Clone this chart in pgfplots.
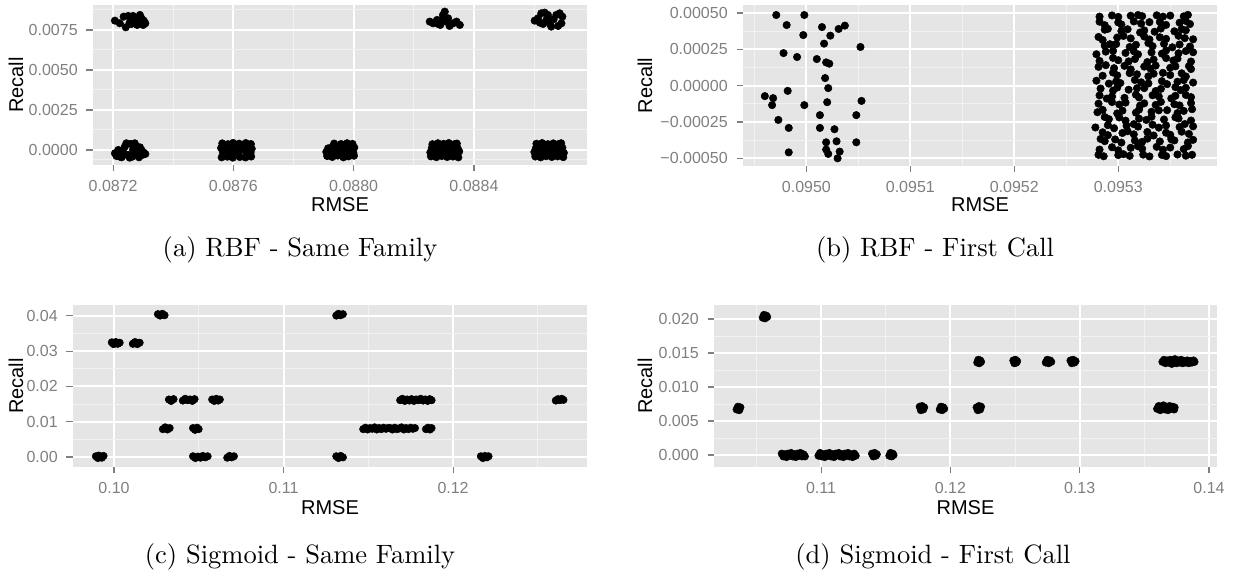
\documentclass[border=0pt]{standalone}
\usepackage{fontspec}
\setmainfont{Latin Modern Roman}
\newfontfamily\ggfont{Liberation Sans}
\usepackage{pgfplots}
\pgfplotsset{compat=1.18}
\definecolor{ggbg}{HTML}{E5E5E5}
\definecolor{ggminor}{HTML}{F2F2F2}
\definecolor{ggtext}{HTML}{7F7F7F}
\pgfplotsset{gg/.style={
  scale only axis,
  axis background/.style={fill=ggbg},
  axis line style={draw=none},
  grid=both,
  major grid style={white, line width=0.8pt},
  minor grid style={ggminor, line width=0.4pt},
  tick align=outside,
  major tick length=2.6pt,
  minor tick length=0pt,
  tick style={ggtext, line width=0.45pt},
  tick pos=left,
  ticklabel style={font=\ggfont\fontsize{6.4}{7.5}\selectfont, text=ggtext},
  label style={font=\ggfont\fontsize{8}{9.6}\selectfont},
  scaled ticks=false,
  anchor=north west,
},
ggpt/.style={only marks, mark=*, mark size=1.5pt, color=black, mark options={draw=black, fill=black, line width=0.2pt}},
}
\begin{document}
\begin{tikzpicture}
\useasboundingbox (0,0) rectangle (493.2pt,-232.4pt);
% (a)
\begin{axis}[gg, at={(37.2pt,-2pt)}, width=197.6pt, height=64pt,
  xmin=0.087133, xmax=0.088776, ymin=-0.00094, ymax=0.00906,
  xtick={0.0872,0.0876,0.0880,0.0884}, xticklabels={0.0872,0.0876,0.0880,0.0884},
  minor xtick={0.0874,0.0878,0.0882,0.0886},
  ytick={0,0.0025,0.005,0.0075}, yticklabels={0.0000,0.0025,0.0050,0.0075},
  minor ytick={-0.000625,0.00125,0.00375,0.00625,0.00875},
  xlabel={RMSE}, ylabel={Recall},
  xlabel style={at={(axis description cs:0.5,-0.25)}, anchor=center},
  ylabel style={at={(axis description cs:-0.1559,0.5)}, anchor=center}]
\addplot[ggpt] coordinates {
(0.087206,0.008083)(0.087222,0.007917)(0.087235,0.008333)(0.087250,0.008375)(0.087242,0.007667)(0.087261,0.007875)(0.087272,0.008125)(0.087289,0.008438)(0.087294,0.008229)(0.087300,0.007813)(0.087307,0.007917)(0.087280,0.007813)(0.087266,0.008375)(0.087255,0.007958)(0.087286,0.008083)(0.087302,0.008083)
(0.087206,-0.000208)(0.087217,0)(0.087222,-0.000417)(0.087233,-0.000104)(0.087239,0.000208)(0.087244,0.000417)(0.087250,-0.000313)(0.087258,0.000375)(0.087266,0)(0.087272,0.000417)(0.087264,-0.000417)(0.087278,-0.000208)(0.087286,-0.000458)(0.087294,0)(0.087302,-0.000167)(0.087307,-0.000250)(0.087228,-0.000458)(0.087211,-0.000375)(0.087255,-0.00048)(0.087275,0.000167)(0.087289,0.000167)(0.087236,-0.000313)(0.087297,-0.000313)
(0.087561,-0.00046)(0.087580,-0.00042)(0.087598,-0.00048)(0.087621,-0.00044)(0.087640,-0.00047)(0.087659,-0.00041)
(0.087565,-0.00014)(0.087584,-0.00019)(0.087603,-0.00011)(0.087618,-0.00016)(0.087642,-0.00009)(0.087657,-0.00018)
(0.087559,0.00012)(0.087578,0.00017)(0.087601,0.00009)(0.087623,0.00019)(0.087638,0.00013)(0.087661,0.00008)
(0.087563,0.00041)(0.087582,0.00036)(0.087599,0.00044)(0.087619,0.00039)(0.087641,0.00043)(0.087658,0.00037)
(0.087571,0.00001)(0.087611,-0.00003)(0.087650,0.00003)(0.087590,-0.00030)(0.087630,0.00028)
(0.087912,-0.00038)(0.087929,-0.00044)(0.087947,-0.00035)(0.087966,-0.00046)(0.087983,-0.00040)(0.088001,-0.00036)
(0.087909,-0.00012)(0.087931,-0.00018)(0.087944,-0.00008)(0.087962,-0.00015)(0.087985,-0.00010)(0.087999,-0.00019)
(0.087915,0.00010)(0.087927,0.00016)(0.087949,0.00012)(0.087967,0.00018)(0.087980,0.00009)(0.088002,0.00015)
(0.087935,0.00040)(0.087958,0.00037)(0.087978,0.00042)(0.087996,0.00038)
(0.087920,-0.00027)(0.087955,0.00002)(0.087990,-0.00025)
(0.088253,0.008021)(0.088264,0.007917)(0.088277,0.008125)(0.088288,0.007813)(0.088297,0.008438)(0.088303,0.008646)(0.088308,0.008021)(0.088319,0.007750)(0.088331,0.007917)(0.088342,0.008021)(0.088353,0.007813)(0.088281,0.007875)(0.088314,0.008229)(0.088295,0.008167)
(0.088257,-0.00040)(0.088275,-0.00045)(0.088293,-0.00038)(0.088311,-0.00044)(0.088330,-0.00041)(0.088348,-0.00046)
(0.088255,-0.00015)(0.088277,-0.00010)(0.088296,-0.00018)(0.088314,-0.00012)(0.088328,-0.00016)(0.088351,-0.00009)
(0.088260,0.00013)(0.088273,0.00008)(0.088291,0.00017)(0.088309,0.00011)(0.088333,0.00015)(0.088346,0.00010)
(0.088262,0.00036)(0.088280,0.00042)(0.088299,0.00038)(0.088316,0.00043)(0.088336,0.00037)(0.088343,0.00040)
(0.088266,-0.00028)(0.088302,0.00000)(0.088340,-0.00030)(0.088285,0.00026)(0.088322,0.00027)
(0.088602,0.008083)(0.088613,0.008229)(0.088624,0.008542)(0.088635,0.008583)(0.088646,0.008438)(0.088641,0.008125)(0.088630,0.007875)(0.088652,0.007917)(0.088665,0.008167)(0.088674,0.008438)(0.088685,0.008542)(0.088694,0.008333)(0.088691,0.007917)(0.088680,0.007750)(0.088657,0.007708)(0.088619,0.007958)
(0.088604,-0.00041)(0.088622,-0.00046)(0.088640,-0.00039)(0.088659,-0.00044)(0.088678,-0.00040)(0.088697,-0.00045)
(0.088601,-0.00013)(0.088624,-0.00017)(0.088643,-0.00010)(0.088661,-0.00016)(0.088676,-0.00011)(0.088699,-0.00018)
(0.088606,0.00011)(0.088619,0.00016)(0.088638,0.00009)(0.088657,0.00017)(0.088681,0.00012)(0.088694,0.00014)
(0.088608,0.00039)(0.088627,0.00043)(0.088646,0.00036)(0.088664,0.00041)(0.088683,0.00038)(0.088690,0.00042)
(0.088613,-0.00027)(0.088650,0.00001)(0.088688,-0.00026)(0.088631,0.00027)(0.088670,0.00026)
};
\end{axis}
% (b)
\begin{axis}[gg, at={(297.2pt,-2pt)}, width=189.6pt, height=64.4pt,
  xmin=0.094939, xmax=0.095395, ymin=-0.000553, ymax=0.000555,
  xtick={0.0950,0.0951,0.0952,0.0953}, xticklabels={0.0950,0.0951,0.0952,0.0953},
  minor xtick={0.09495,0.09505,0.09515,0.09525,0.09535},
  ytick={-0.0005,-0.00025,0,0.00025,0.0005}, yticklabels={−0.00050,−0.00025,0.00000,0.00025,0.00050},
  minor ytick={-0.000375,-0.000125,0.000125,0.000375},
  xlabel={RMSE}, ylabel={Recall},
  xlabel style={at={(axis description cs:0.5,-0.242)}, anchor=center},
  ylabel style={at={(axis description cs:-0.2068,0.5)}, anchor=center}]
\addplot[ggpt] coordinates {
(0.094971,0.000486)(0.094998,0.000486)(0.094981,0.000417)(0.095015,0.000403)(0.095031,0.000390)(0.095037,0.000413)(0.094997,0.000348)(0.095023,0.000344)(0.095017,0.000289)(0.095052,0.000266)(0.094978,0.000224)(0.094991,0.000197)(0.095010,0.000183)(0.095019,0.000160)(0.095022,0.000151)(0.095018,0.000052)(0.095021,-0.000017)(0.094982,-0.000036)(0.094960,-0.000072)(0.094968,-0.000086)(0.094967,-0.000134)(0.094998,-0.000134)(0.095020,-0.000114)(0.095053,-0.000105)(0.095013,-0.000203)(0.095048,-0.000203)(0.094973,-0.000236)(0.094983,-0.000291)(0.095013,-0.000291)(0.095027,-0.000300)(0.095019,-0.000390)(0.095029,-0.000383)(0.095048,-0.000390)(0.094983,-0.000459)(0.095019,-0.000440)(0.095021,-0.000470)(0.095032,-0.000454)(0.095030,-0.000500)
(0.095281,-0.000476)(0.095286,-0.000486)(0.095300,-0.000478)(0.095305,-0.000472)(0.095311,-0.000483)(0.095324,-0.000475)(0.095330,-0.000487)(0.095342,-0.000477)(0.095346,-0.000485)(0.095357,-0.000474)(0.095365,-0.000482)(0.095371,-0.000476)
(0.095282,-0.000440)(0.095294,-0.000424)(0.095300,-0.000445)(0.095312,-0.000428)(0.095319,-0.000417)(0.095323,-0.000434)(0.095337,-0.000421)(0.095343,-0.000441)(0.095350,-0.000426)(0.095363,-0.000437)(0.095367,-0.000416)
(0.095283,-0.000367)(0.095287,-0.000382)(0.095297,-0.000370)(0.095303,-0.000392)(0.095316,-0.000378)(0.095323,-0.000387)(0.095328,-0.000365)(0.095340,-0.000384)(0.095351,-0.000369)(0.095354,-0.000377)(0.095367,-0.000391)(0.095372,-0.000373)
(0.095285,-0.000321)(0.095290,-0.000341)(0.095304,-0.000326)(0.095309,-0.000314)(0.095315,-0.000335)(0.095328,-0.000319)(0.095334,-0.000343)(0.095346,-0.000324)(0.095350,-0.000338)(0.095361,-0.000317)(0.095368,-0.000332)
(0.095278,-0.000288)(0.095290,-0.000272)(0.095296,-0.000293)(0.095308,-0.000276)(0.095315,-0.000265)(0.095319,-0.000282)(0.095333,-0.000269)(0.095339,-0.000289)(0.095346,-0.000274)(0.095359,-0.000285)(0.095364,-0.000264)(0.095372,-0.000280)
(0.095287,-0.000216)(0.095291,-0.000231)(0.095301,-0.000219)(0.095307,-0.000241)(0.095320,-0.000227)(0.095327,-0.000236)(0.095332,-0.000214)(0.095344,-0.000233)(0.095355,-0.000218)(0.095358,-0.000226)(0.095370,-0.000240)
(0.095280,-0.000183)(0.095285,-0.000167)(0.095299,-0.000191)(0.095304,-0.000172)(0.095317,-0.000186)(0.095320,-0.000165)(0.095332,-0.000180)(0.095339,-0.000170)(0.095347,-0.000169)(0.095357,-0.000189)(0.095363,-0.000174)(0.095371,-0.000162)
(0.095281,-0.000124)(0.095294,-0.000113)(0.095301,-0.000130)(0.095307,-0.000117)(0.095321,-0.000137)(0.095325,-0.000122)(0.095336,-0.000133)(0.095341,-0.000112)(0.095354,-0.000128)(0.095359,-0.000136)(0.095370,-0.000120)
(0.095282,-0.000067)(0.095289,-0.000089)(0.095294,-0.000075)(0.095306,-0.000084)(0.095317,-0.000062)(0.095320,-0.000081)(0.095333,-0.000066)(0.095339,-0.000074)(0.095351,-0.000088)(0.095355,-0.000070)(0.095365,-0.000064)(0.095370,-0.000079)
(0.095283,-0.000020)(0.095295,-0.000034)(0.095299,-0.000013)(0.095310,-0.000028)(0.095318,-0.000018)(0.095325,-0.000017)(0.095336,-0.000037)(0.095341,-0.000022)(0.095355,-0.000010)(0.095360,-0.000031)(0.095365,-0.000015)
(0.095279,0.000034)(0.095291,0.000014)(0.095298,0.000029)(0.095302,0.000018)(0.095316,0.000039)(0.095322,0.000023)(0.095329,0.000015)(0.095342,0.000031)(0.095347,0.000010)(0.095357,0.000027)(0.095363,0.000038)(0.095372,0.000021)
(0.095285,0.000068)(0.095295,0.000090)(0.095299,0.000071)(0.095311,0.000086)(0.095318,0.000078)(0.095329,0.000064)(0.095334,0.000082)(0.095343,0.000088)(0.095350,0.000073)(0.095361,0.000085)(0.095365,0.000063)
(0.095281,0.000129)(0.095288,0.000141)(0.095296,0.000120)(0.095306,0.000136)(0.095312,0.000112)(0.095325,0.000131)(0.095331,0.000117)(0.095336,0.000138)(0.095350,0.000123)(0.095355,0.000133)(0.095368,0.000134)(0.095370,0.000114)
(0.095282,0.000170)(0.095295,0.000191)(0.095300,0.000175)(0.095310,0.000167)(0.095316,0.000183)(0.095328,0.000162)(0.095334,0.000179)(0.095346,0.000190)(0.095353,0.000173)(0.095357,0.000186)(0.095370,0.000166)
(0.095279,0.000216)(0.095288,0.000234)(0.095295,0.000240)(0.095307,0.000225)(0.095315,0.000237)(0.095319,0.000215)(0.095332,0.000229)(0.095342,0.000220)(0.095346,0.000242)(0.095358,0.000223)(0.095365,0.000238)(0.095372,0.000230)
(0.095287,0.000275)(0.095292,0.000285)(0.095298,0.000286)(0.095311,0.000266)(0.095317,0.000281)(0.095329,0.000293)(0.095333,0.000272)(0.095344,0.000288)(0.095352,0.000264)(0.095359,0.000283)(0.095369,0.000269)
(0.095281,0.000335)(0.095285,0.000314)(0.095299,0.000331)(0.095305,0.000342)(0.095312,0.000325)(0.095325,0.000338)(0.095330,0.000318)(0.095340,0.000333)(0.095346,0.000322)(0.095358,0.000343)(0.095364,0.000327)(0.095372,0.000319)
(0.095287,0.000385)(0.095290,0.000391)(0.095303,0.000376)(0.095309,0.000388)(0.095321,0.000366)(0.095325,0.000380)(0.095335,0.000371)(0.095341,0.000393)(0.095354,0.000374)(0.095361,0.000389)(0.095365,0.000381)
(0.095282,0.000440)(0.095287,0.000416)(0.095300,0.000435)(0.095303,0.000421)(0.095315,0.000442)(0.095322,0.000427)(0.095330,0.000437)(0.095340,0.000438)(0.095346,0.000418)(0.095359,0.000433)(0.095365,0.000445)(0.095369,0.000424)
(0.095282,0.000475)(0.095294,0.000483)(0.095300,0.000473)(0.095312,0.000481)(0.095319,0.000486)(0.095323,0.000478)(0.095337,0.000484)(0.095343,0.000475)(0.095350,0.000482)(0.095363,0.000477)(0.095367,0.000487)
};
\end{axis}
% (c)
\begin{axis}[gg, at={(29.2pt,-122pt)}, width=205.6pt, height=64.8pt,
  xmin=0.09758, xmax=0.1279, ymin=-0.00284, ymax=0.0431,
  xtick={0.10,0.11,0.12}, xticklabels={0.10,0.11,0.12},
  minor xtick={0.105,0.115,0.125},
  ytick={0,0.01,0.02,0.03,0.04}, yticklabels={0.00,0.01,0.02,0.03,0.04},
  minor ytick={0.005,0.015,0.025,0.035},
  xlabel={RMSE}, ylabel={Recall},
  xlabel style={at={(axis description cs:0.5,-0.253)}, anchor=center},
  ylabel style={at={(axis description cs:-0.1109,0.5)}, anchor=center}]
\addplot[ggpt] coordinates {
(0.09893,0.0002)(0.09905,-0.0003)(0.09916,0.0001)(0.09928,-0.0002)(0.09938,0.0003)(0.09910,0.0004)
(0.09987,0.0325)(0.09998,0.0320)(0.10010,0.0326)(0.10022,0.0321)(0.10033,0.0324)
(0.10111,0.0321)(0.10124,0.0326)(0.10137,0.0320)(0.10151,0.0324)
(0.10259,0.0405)(0.10272,0.0401)(0.10285,0.0406)(0.10298,0.0402)
(0.10324,0.0163)(0.10337,0.0159)(0.10351,0.0164)
(0.10406,0.0160)(0.10420,0.0165)(0.10434,0.0161)(0.10448,0.0163)(0.10462,0.0159)(0.10475,0.0164)
(0.10579,0.0163)(0.10591,0.0159)(0.10603,0.0165)(0.10614,0.0160)(0.10624,0.0163)
(0.10288,0.0079)(0.10302,0.0084)(0.10315,0.0078)(0.10328,0.0082)
(0.10466,0.0082)(0.10478,0.0077)(0.10490,0.0083)(0.10499,0.0079)
(0.10466,0.0002)(0.10480,-0.0003)(0.10495,0.0001)(0.10510,-0.0002)(0.10524,0.0003)(0.10538,-0.0001)(0.10552,0.0002)
(0.10668,-0.0002)(0.10681,0.0003)(0.10694,-0.0001)(0.10707,0.0002)
(0.11311,0.0401)(0.11324,0.0406)(0.11337,0.0402)(0.11350,0.0405)
(0.11311,0.0002)(0.11324,-0.0003)(0.11337,0.0003)(0.11350,-0.0001)
(0.11470,0.0079)(0.11483,0.0083)(0.11496,0.0078)(0.11510,0.0082)(0.11523,0.0080)(0.11537,0.0084)(0.11550,0.0078)(0.11564,0.0082)(0.11577,0.0079)(0.11590,0.0083)(0.11604,0.0080)(0.11616,0.0082)
(0.11629,0.0082)(0.11642,0.0078)(0.11656,0.0083)(0.11669,0.0079)(0.11683,0.0081)(0.11696,0.0084)(0.11710,0.0078)(0.11723,0.0082)(0.11737,0.0079)(0.11750,0.0083)(0.11763,0.0080)(0.11775,0.0082)
(0.11840,0.0079)(0.11852,0.0083)(0.11864,0.0078)(0.11873,0.0082)
(0.11688,0.0161)(0.11701,0.0165)(0.11715,0.0159)(0.11728,0.0163)(0.11742,0.0160)(0.11755,0.0164)(0.11769,0.0159)(0.11782,0.0163)(0.11796,0.0161)(0.11809,0.0165)(0.11823,0.0160)(0.11836,0.0163)(0.11850,0.0159)(0.11862,0.0164)(0.11873,0.0161)
(0.12164,0.0002)(0.12176,-0.0003)(0.12188,0.0003)(0.12199,-0.0001)(0.12209,0.0002)
(0.12606,0.0160)(0.12618,0.0164)(0.12630,0.0161)(0.12641,0.0165)(0.12651,0.0162)
};
\end{axis}
% (d)
\begin{axis}[gg, at={(285.6pt,-122pt)}, width=201.2pt, height=64.8pt,
  xmin=0.10172, xmax=0.14062, ymin=-0.00176, ymax=0.02206,
  xtick={0.11,0.12,0.13,0.14}, xticklabels={0.11,0.12,0.13,0.14},
  minor xtick={0.105,0.115,0.125,0.135},
  ytick={0,0.005,0.01,0.015,0.02}, yticklabels={0.000,0.005,0.010,0.015,0.020},
  minor ytick={0.0025,0.0075,0.0125,0.0175},
  xlabel={RMSE}, ylabel={Recall},
  xlabel style={at={(axis description cs:0.5,-0.253)}, anchor=center},
  ylabel style={at={(axis description cs:-0.1372,0.5)}, anchor=center}]
\addplot[ggpt] coordinates {
(0.10347,0.0067)(0.10357,0.0071)(0.10367,0.0066)(0.10376,0.0070)
(0.10549,0.0202)(0.10558,0.0206)(0.10567,0.0201)(0.10576,0.0205)(0.10583,0.0203)
(0.10696,0.0002)(0.10708,-0.0002)(0.10720,0.0001)(0.10732,-0.0003)(0.10744,0.0002)(0.10756,-0.0001)(0.10768,0.0003)(0.10780,-0.0002)(0.10792,0.0001)(0.10804,-0.0003)(0.10816,0.0002)(0.10828,-0.0001)(0.10840,0.0003)(0.10852,-0.0002)(0.10864,0.0001)(0.10875,-0.0002)
(0.10980,-0.0001)(0.10992,0.0003)(0.11004,-0.0002)(0.11016,0.0001)(0.11028,-0.0003)(0.11040,0.0002)(0.11052,-0.0001)(0.11064,0.0003)(0.11076,-0.0002)(0.11088,0.0001)(0.11100,-0.0003)(0.11112,0.0002)(0.11124,0.0000)(0.11136,0.0003)(0.11148,-0.0002)(0.11160,0.0001)(0.11172,-0.0003)(0.11184,0.0002)(0.11196,-0.0001)(0.11208,0.0003)(0.11220,-0.0002)(0.11232,0.0001)(0.11244,-0.0003)(0.11256,0.0002)(0.11268,-0.0001)
(0.11394,0.0002)(0.11404,-0.0002)(0.11414,0.0003)(0.11423,-0.0001)(0.11431,0.0001)
(0.11528,-0.0001)(0.11537,0.0003)(0.11546,-0.0002)(0.11554,0.0002)(0.11560,0.0000)
(0.11763,0.0071)(0.11772,0.0066)(0.11781,0.0072)(0.11790,0.0067)(0.11797,0.0070)
(0.11918,0.0067)(0.11927,0.0071)(0.11936,0.0066)(0.11945,0.0070)(0.11952,0.0068)
(0.12203,0.0070)(0.12212,0.0066)(0.12221,0.0072)(0.12230,0.0067)(0.12237,0.0071)
(0.12208,0.0136)(0.12216,0.0140)(0.12224,0.0135)(0.12231,0.0139)(0.12237,0.0137)
(0.12487,0.0139)(0.12495,0.0135)(0.12503,0.0140)(0.12510,0.0136)(0.12516,0.0138)
(0.12738,0.0136)(0.12749,0.0140)(0.12760,0.0135)(0.12771,0.0139)(0.12780,0.0137)
(0.12929,0.0139)(0.12939,0.0135)(0.12949,0.0140)(0.12959,0.0136)(0.12968,0.0138)
(0.13640,0.0137)(0.13652,0.0140)(0.13664,0.0135)(0.13676,0.0139)(0.13688,0.0136)(0.13700,0.0140)(0.13712,0.0134)(0.13724,0.0138)(0.13736,0.0141)(0.13748,0.0135)(0.13760,0.0139)(0.13772,0.0136)(0.13784,0.0140)(0.13796,0.0135)(0.13808,0.0138)(0.13820,0.0136)(0.13832,0.0139)(0.13844,0.0135)(0.13856,0.0138)(0.13868,0.0136)(0.13880,0.0139)(0.13888,0.0137)
(0.13599,0.0068)(0.13611,0.0072)(0.13623,0.0066)(0.13635,0.0070)(0.13647,0.0073)(0.13659,0.0067)(0.13671,0.0071)(0.13683,0.0066)(0.13695,0.0072)(0.13707,0.0068)(0.13719,0.0071)(0.13731,0.0067)(0.13734,0.0070)
};
\end{axis}
\node[font=\fontsize{10.6}{12.7}\selectfont] at (120pt,-100pt) {(a) RBF - Same Family};
\node[font=\fontsize{10.6}{12.7}\selectfont] at (374pt,-100pt) {(b) RBF - First Call};
\node[font=\fontsize{10.6}{12.7}\selectfont] at (120pt,-222.8pt) {(c) Sigmoid - Same Family};
\node[font=\fontsize{10.6}{12.7}\selectfont] at (373.2pt,-222.8pt) {(d) Sigmoid - First Call};
\end{tikzpicture}
\end{document}
